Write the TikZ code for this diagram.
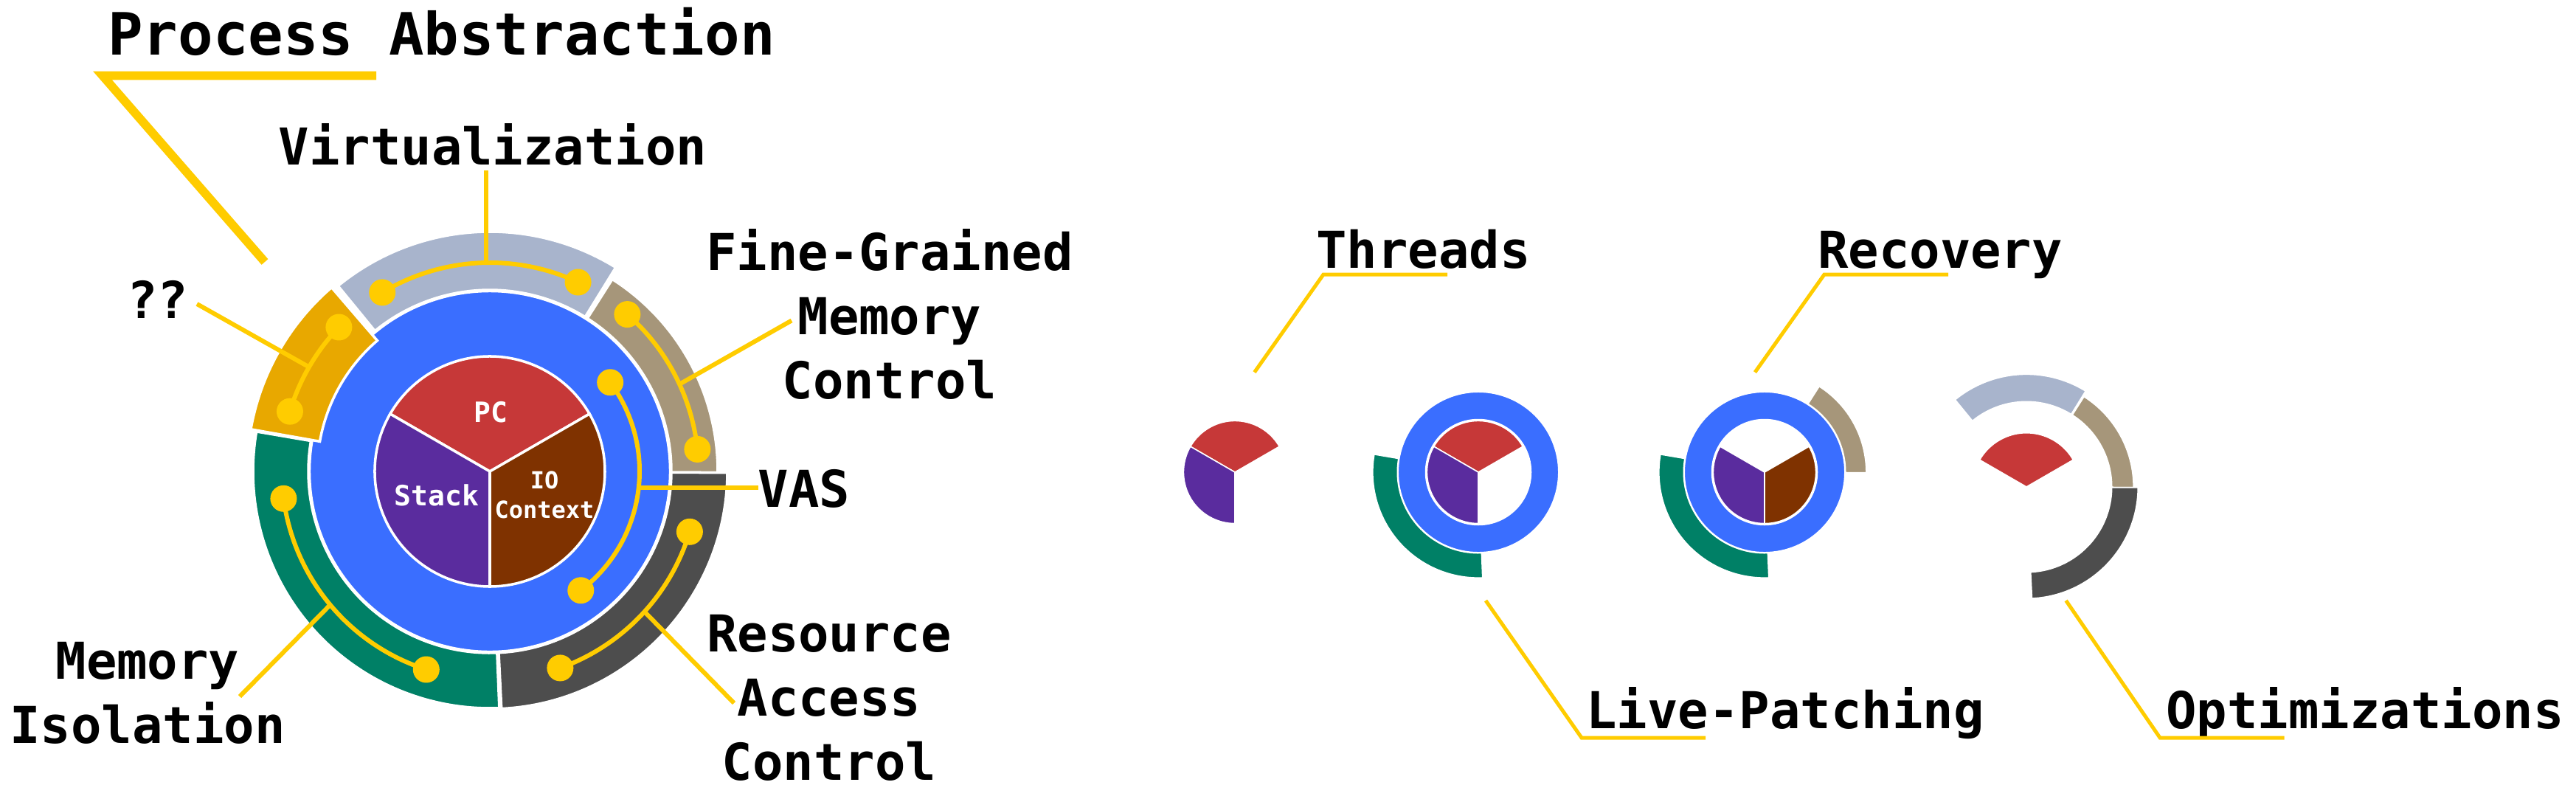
\documentclass[tikz,border=0pt]{standalone}
\usepackage{fontspec}
\newfontfamily\labelfont{DejaVu Sans Mono}
\definecolor{pcred}{HTML}{C63838}
\definecolor{stackpurple}{HTML}{5A2C9E}
\definecolor{iobrown}{HTML}{7F3200}
\definecolor{vasblue}{HTML}{3A6EFF}
\definecolor{virtgray}{HTML}{A8B4CC}
\definecolor{graintan}{HTML}{A6967A}
\definecolor{resgray}{HTML}{4D4D4D}
\definecolor{isogreen}{HTML}{008066}
\definecolor{qqorange}{HTML}{E8A800}
\definecolor{pinyellow}{HTML}{FFCC00}

\tikzset{
  seg/.style={draw=white, line width=1pt},
  wire/.style={draw=pinyellow, line width=0.06cm},
  lead/.style={draw=pinyellow, line width=0.06cm},
  thinlead/.style={draw=pinyellow, line width=0.05cm},
  tag/.style={font=\labelfont\bfseries\fontsize{19.6}{24.7}\selectfont, inner sep=0pt, anchor=base, align=center},
  slicetag/.style={font=\labelfont\bfseries\fontsize{10.8}{12}\selectfont, text=white, inner sep=0pt, align=center},
}
% ring segment: colour, from, to, inner radius, outer radius
\newcommand{\annseg}[5]{\fill[#1, seg] (#2:#4) arc (#2:#3:#4) -- (#3:#5) arc (#3:#2:#5) -- cycle;}
% pie slice: colour, from, to, radius
\newcommand{\pieslice}[4]{\fill[#1, seg] (0,0) -- (#2:#4) arc (#2:#3:#4) -- cycle;}
% yellow pin with two dots: radius, from, to
\newcommand{\dumbbell}[3]{\draw[wire] (#2:#1) arc (#2:#3:#1); \fill[pinyellow] (#2:#1) circle (0.18) (#3:#1) circle (0.18);}

\begin{document}
\begin{tikzpicture}
\useasboundingbox (0,0) rectangle (34.92,-10.82);

% full process
\begin{scope}[shift={(6.64,-6.39)}]
  \annseg{virtgray}{58.3}{129.3}{2.46}{3.25}
  \annseg{graintan}{-0.3}{57.5}{2.46}{3.09}
  \annseg{resgray}{-87.2}{-0.3}{2.46}{3.22}
  \annseg{isogreen}{170.3}{272.3}{2.46}{3.21}
  \fill[vasblue, draw=white, line width=0.7pt] (0,0) circle (2.44);
  \annseg{qqorange}{130.7}{170}{2.34}{3.29}
  \pieslice{pcred}{30}{150}{1.56}
  \pieslice{stackpurple}{150}{270}{1.56}
  \pieslice{iobrown}{270}{390}{1.56}
  \node[slicetag] (pc) at (0.01,0.80) {PC};
  \node[slicetag] (stack) at (-0.72,-0.32) {Stack};
  \node[slicetag, font=\labelfont\bfseries\fontsize{9.1}{11.4}\selectfont] (io) at (0.74,-0.32) {IO\\Context};
  \dumbbell{2.83}{65}{121}
  \dumbbell{2.83}{136.3}{163.3}
  \dumbbell{2.83}{6.1}{48.8}
  \dumbbell{2.83}{-70.3}{-16.8}
  \dumbbell{2.82}{187.5}{252.2}
  \dumbbell{2.03}{-52.6}{36.5}
  \coordinate (virt-pin) at (91:2.83);
  \coordinate (qq-pin) at (150:2.83);
  \coordinate (grain-pin) at (24.7:2.83);
  \coordinate (vas-pin) at (-6.3:2.03);
  \coordinate (res-pin) at (-42.2:2.83);
  \coordinate (iso-pin) at (219.9:2.83);
\end{scope}

\node[tag, font=\labelfont\bfseries\fontsize{22.5}{27}\selectfont] (proc) at (5.985,-0.74) {Process Abstraction};
\node[tag] (virt) at (6.68,-2.23) {Virtualization};
\node[tag] (qq) at (2.14,-4.31) {??};
\node[tag] (grain) at (12.06,-5.40) {Fine-Grained\\Memory\\Control};
\node[tag] (vas) at (10.90,-6.87) {VAS};
\node[tag] (res) at (11.24,-10.575) {Resource\\Access\\Control};
\node[tag] (iso) at (2.00,-10.07) {Memory\\Isolation};

\coordinate (proc-end) at (5.10,-1.025);
\coordinate (proc-knee) at (1.39,-1.025);
\coordinate (proc-pin) at (3.59,-3.55);
\draw[draw=pinyellow, line width=0.117cm] (proc-end) -- (proc-knee) -- (proc-pin);
\draw[lead] (virt-pin) -- (virt-pin |- 0,-2.31);
\draw[lead] (qq-pin) -- (2.67,-4.12);
\draw[lead] (grain-pin) -- (10.73,-4.345);
\draw[lead] (vas-pin) -- (vas-pin -| 10.28,0);
\draw[lead] (res-pin) -- (9.95,-9.53);
\draw[lead] (iso-pin) -- (3.25,-9.44);

% threads
\begin{scope}[shift={(16.74,-6.40)}, scale=0.446, seg/.style={draw=white, line width=0.45pt}]
  \pieslice{pcred}{30}{150}{1.56}
  \pieslice{stackpurple}{150}{270}{1.56}
\end{scope}

% live-patching
\begin{scope}[shift={(20.04,-6.40)}, scale=0.446, seg/.style={draw=white, line width=0.45pt}]
  \annseg{isogreen}{170.3}{272.3}{2.46}{3.21}
  \fill[vasblue, draw=white, line width=0.45pt] (0,0) circle (2.44);
  \fill[white] (0,0) circle (1.62);
  \pieslice{pcred}{30}{150}{1.56}
  \pieslice{stackpurple}{150}{270}{1.56}
\end{scope}

% recovery
\begin{scope}[shift={(23.92,-6.40)}, scale=0.446, seg/.style={draw=white, line width=0.45pt}]
  \annseg{isogreen}{170.3}{272.3}{2.46}{3.21}
  \annseg{graintan}{-0.3}{57.5}{2.46}{3.09}
  \fill[vasblue, draw=white, line width=0.45pt] (0,0) circle (2.44);
  \fill[white] (0,0) circle (1.62);
  \pieslice{stackpurple}{150}{270}{1.56}
  \pieslice{iobrown}{270}{390}{1.56}
\end{scope}

% optimizations
\begin{scope}[shift={(27.47,-6.60)}, scale=0.47, seg/.style={draw=white, line width=0.5pt}]
  \annseg{virtgray}{58.3}{129.3}{2.46}{3.25}
  \annseg{graintan}{-0.3}{57.5}{2.46}{3.09}
  \annseg{resgray}{-87.2}{-0.3}{2.46}{3.22}
  \pieslice{pcred}{30}{150}{1.56}
\end{scope}

\node[tag] (thr) at (19.295,-3.635) {Threads};
\node[tag] (rec) at (26.30,-3.635) {Recovery};
\node[tag] (live) at (24.20,-9.87) {Live-Patching};
\node[tag] (opt) at (32.06,-9.87) {Optimizations};

\draw[thinlead] (17.005,-5.046) -- (17.94,-3.72) -- (19.62,-3.72);
\draw[thinlead] (23.79,-5.046) -- (24.73,-3.72) -- (26.41,-3.72);
\draw[thinlead] (20.14,-8.14) -- (21.44,-10.00) -- (23.12,-10.00);
\draw[thinlead] (28.006,-8.14) -- (29.28,-10.00) -- (30.965,-10.00);
\end{tikzpicture}
\end{document}
